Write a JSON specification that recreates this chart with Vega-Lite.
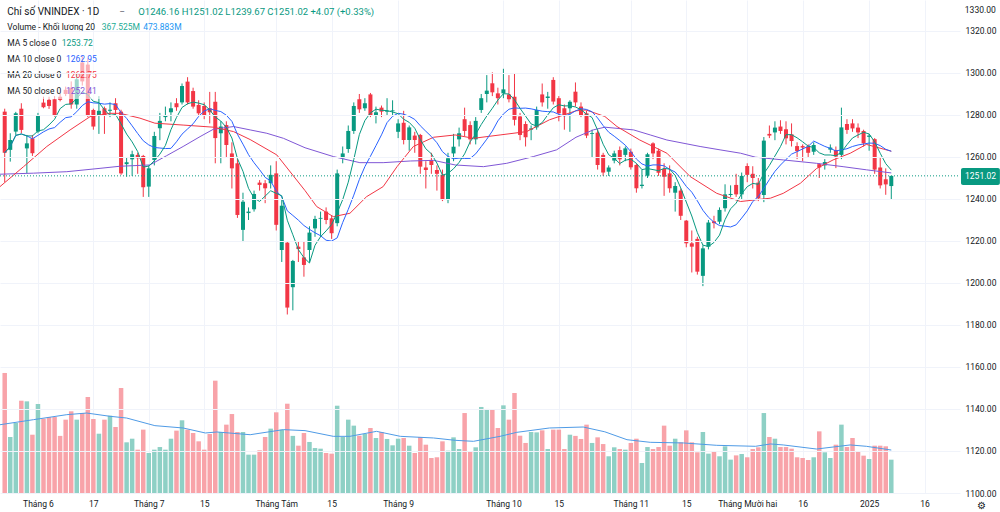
{
"$schema":"https://vega.github.io/schema/vega-lite/v6.json",
"width":960,"height":493,
"autosize":{"type":"none"},
"padding":{"left":0,"top":0,"right":40,"bottom":19},
"background":"#ffffff",
"config":{"view":{"stroke":null},"font":"Roboto","text":{"font":"Roboto"}},
"datasets":{
"k":[
{"i":1,"o":1281.6,"h":1283,"l":1248,"c":1262,"v":1324},
{"i":2,"o":1263.4,"h":1271.3,"l":1257.8,"c":1268.1,"v":618},
{"i":3,"o":1272.1,"h":1281.5,"l":1270.5,"c":1280.8,"v":772},
{"i":4,"o":1283,"h":1285.6,"l":1271.3,"c":1272.9,"v":1018},
{"i":5,"o":1264.1,"h":1270.5,"l":1252.3,"c":1266.5,"v":1011},
{"i":6,"o":1268.9,"h":1270.5,"l":1260.5,"c":1261.8,"v":643},
{"i":7,"o":1272.1,"h":1281,"l":1271.3,"c":1280,"v":982},
{"i":8,"o":1285.9,"h":1288.7,"l":1283.2,"c":1283.7,"v":820},
{"i":9,"o":1287.2,"h":1288.7,"l":1282.9,"c":1284.3,"v":838},
{"i":10,"o":1287.5,"h":1289,"l":1279.2,"c":1280,"v":838},
{"i":11,"o":1288.7,"h":1290.3,"l":1286.5,"c":1287.2,"v":630},
{"i":12,"o":1292,"h":1293.5,"l":1289,"c":1290,"v":809},
{"i":13,"o":1293,"h":1296,"l":1283,"c":1285,"v":901},
{"i":14,"o":1285,"h":1300,"l":1283,"c":1297,"v":809},
{"i":15,"o":1305,"h":1308,"l":1294,"c":1296,"v":882},
{"i":16,"o":1304,"h":1307,"l":1279,"c":1280,"v":1059},
{"i":17,"o":1282.4,"h":1283,"l":1273,"c":1274.5,"v":816},
{"i":18,"o":1280,"h":1289,"l":1271,"c":1282,"v":654},
{"i":19,"o":1283.2,"h":1284,"l":1271,"c":1280,"v":809},
{"i":20,"o":1282,"h":1286,"l":1279,"c":1282.5,"v":853},
{"i":21,"o":1285.6,"h":1288,"l":1280,"c":1282.4,"v":728},
{"i":22,"o":1281.6,"h":1282.5,"l":1251.5,"c":1252.2,"v":1158},
{"i":23,"o":1256.6,"h":1260,"l":1250.6,"c":1257.5,"v":559},
{"i":24,"o":1258.9,"h":1263,"l":1251,"c":1261.3,"v":599},
{"i":25,"o":1261,"h":1262,"l":1252,"c":1259.4,"v":478},
{"i":26,"o":1260.5,"h":1261,"l":1241,"c":1245.6,"v":699},
{"i":27,"o":1245.9,"h":1256,"l":1241,"c":1254.6,"v":441},
{"i":28,"o":1258.6,"h":1272,"l":1256,"c":1270,"v":478},
{"i":29,"o":1273.7,"h":1281,"l":1268,"c":1277.2,"v":507},
{"i":30,"o":1279,"h":1284,"l":1277,"c":1280,"v":478},
{"i":31,"o":1281.3,"h":1286,"l":1277,"c":1283.2,"v":599},
{"i":32,"o":1285.6,"h":1288,"l":1282,"c":1283.7,"v":688},
{"i":33,"o":1286,"h":1295,"l":1285,"c":1293.8,"v":802},
{"i":34,"o":1295.9,"h":1298,"l":1285,"c":1286,"v":699},
{"i":35,"o":1291.4,"h":1293,"l":1283,"c":1284,"v":662},
{"i":36,"o":1284.8,"h":1287,"l":1280,"c":1280.8,"v":570},
{"i":37,"o":1284.3,"h":1286,"l":1278,"c":1280,"v":478},
{"i":38,"o":1283.2,"h":1291,"l":1276,"c":1281.3,"v":651},
{"i":39,"o":1286.3,"h":1291,"l":1257,"c":1269,"v":1239},
{"i":40,"o":1271.3,"h":1277,"l":1257,"c":1274.5,"v":673},
{"i":41,"o":1275.2,"h":1277,"l":1260,"c":1265.7,"v":754},
{"i":42,"o":1261.7,"h":1267,"l":1245,"c":1254.6,"v":871},
{"i":43,"o":1257,"h":1259,"l":1231,"c":1232.4,"v":673},
{"i":44,"o":1225.3,"h":1243,"l":1219.5,"c":1238.7,"v":673},
{"i":45,"o":1233.3,"h":1236,"l":1230,"c":1234,"v":423},
{"i":46,"o":1235.1,"h":1244,"l":1234,"c":1242.4,"v":423},
{"i":47,"o":1247.8,"h":1249,"l":1244,"c":1246.7,"v":471},
{"i":48,"o":1247.5,"h":1249,"l":1238,"c":1245.1,"v":618},
{"i":49,"o":1247.5,"h":1256,"l":1245,"c":1251.5,"v":710},
{"i":50,"o":1252.2,"h":1258,"l":1225,"c":1227.7,"v":890},
{"i":51,"o":1215.7,"h":1240,"l":1210,"c":1236.8,"v":699},
{"i":52,"o":1219.2,"h":1220,"l":1185,"c":1188.3,"v":985},
{"i":53,"o":1198,"h":1211,"l":1187,"c":1210.5,"v":630},
{"i":54,"o":1217.3,"h":1220,"l":1210,"c":1216.2,"v":522},
{"i":55,"o":1212.2,"h":1220,"l":1203,"c":1208.6,"v":662},
{"i":56,"o":1215.7,"h":1227,"l":1210,"c":1224,"v":563},
{"i":57,"o":1226,"h":1232,"l":1222,"c":1230.5,"v":496},
{"i":58,"o":1230.6,"h":1234,"l":1222,"c":1231,"v":489},
{"i":59,"o":1234,"h":1236,"l":1228,"c":1230,"v":441},
{"i":60,"o":1230.8,"h":1232,"l":1221,"c":1223.7,"v":434},
{"i":61,"o":1228.5,"h":1254,"l":1227,"c":1252.2,"v":963},
{"i":62,"o":1259.4,"h":1265,"l":1257,"c":1261.7,"v":618},
{"i":63,"o":1263.8,"h":1275,"l":1262,"c":1272.4,"v":809},
{"i":64,"o":1272.4,"h":1286,"l":1271,"c":1284.3,"v":743},
{"i":65,"o":1287.5,"h":1290,"l":1281,"c":1282.7,"v":632},
{"i":66,"o":1283.2,"h":1288,"l":1282,"c":1285.6,"v":651},
{"i":67,"o":1289.8,"h":1290.5,"l":1279,"c":1280,"v":717},
{"i":68,"o":1280,"h":1284,"l":1276,"c":1281.3,"v":607},
{"i":69,"o":1283.5,"h":1284.5,"l":1279,"c":1281.6,"v":673},
{"i":70,"o":1281.6,"h":1288,"l":1280,"c":1282,"v":596},
{"i":71,"o":1281.8,"h":1287,"l":1280,"c":1282.2,"v":526},
{"i":72,"o":1272,"h":1278,"l":1269,"c":1276,"v":599},
{"i":73,"o":1276.3,"h":1282,"l":1266,"c":1268.1,"v":607},
{"i":74,"o":1268.1,"h":1275,"l":1263,"c":1274.1,"v":522},
{"i":75,"o":1270.2,"h":1272,"l":1262,"c":1268.1,"v":441},
{"i":76,"o":1270.5,"h":1271,"l":1252,"c":1255.4,"v":618},
{"i":77,"o":1255,"h":1258,"l":1245,"c":1253.8,"v":533},
{"i":78,"o":1258.6,"h":1262,"l":1252,"c":1256.2,"v":386},
{"i":79,"o":1253.8,"h":1256,"l":1244,"c":1252,"v":394},
{"i":80,"o":1251.5,"h":1254,"l":1239,"c":1239.5,"v":570},
{"i":81,"o":1239.5,"h":1262,"l":1238,"c":1259.4,"v":467},
{"i":82,"o":1261.7,"h":1271,"l":1258,"c":1264.9,"v":614},
{"i":83,"o":1268.4,"h":1274,"l":1265,"c":1271.3,"v":485},
{"i":84,"o":1278,"h":1283.5,"l":1270,"c":1272.4,"v":882},
{"i":85,"o":1275.2,"h":1277,"l":1266,"c":1268.4,"v":460},
{"i":86,"o":1268.4,"h":1279,"l":1266,"c":1277.2,"v":504},
{"i":87,"o":1282.4,"h":1290,"l":1281,"c":1288,"v":949},
{"i":88,"o":1290,"h":1299,"l":1286,"c":1291.6,"v":927},
{"i":89,"o":1295.1,"h":1300.3,"l":1289,"c":1290.8,"v":919},
{"i":90,"o":1290.3,"h":1293,"l":1285,"c":1288,"v":717},
{"i":91,"o":1290.3,"h":1302,"l":1288,"c":1292.2,"v":967},
{"i":92,"o":1289.8,"h":1299,"l":1286,"c":1287.5,"v":809},
{"i":93,"o":1288.7,"h":1300,"l":1275,"c":1277.7,"v":1103},
{"i":94,"o":1279.3,"h":1281,"l":1268,"c":1270.5,"v":632},
{"i":95,"o":1275.7,"h":1277,"l":1265,"c":1269.4,"v":552},
{"i":96,"o":1273,"h":1275,"l":1268,"c":1273.6,"v":673},
{"i":97,"o":1274.1,"h":1284,"l":1273,"c":1282.4,"v":669},
{"i":98,"o":1289.8,"h":1295,"l":1284,"c":1286,"v":691},
{"i":99,"o":1288.1,"h":1291,"l":1283,"c":1288.8,"v":485},
{"i":100,"o":1296.7,"h":1298,"l":1285,"c":1286.4,"v":699},
{"i":101,"o":1288,"h":1289,"l":1277,"c":1280.8,"v":699},
{"i":102,"o":1283.2,"h":1285,"l":1273,"c":1279.6,"v":485},
{"i":103,"o":1283.2,"h":1287,"l":1272,"c":1286.3,"v":643},
{"i":104,"o":1291.1,"h":1295.5,"l":1284,"c":1286,"v":630},
{"i":105,"o":1284,"h":1286,"l":1279,"c":1280,"v":596},
{"i":106,"o":1280.8,"h":1282,"l":1269,"c":1270.2,"v":754},
{"i":107,"o":1271,"h":1273,"l":1260,"c":1271.4,"v":552},
{"i":108,"o":1271.6,"h":1273,"l":1254,"c":1256.2,"v":614},
{"i":109,"o":1261,"h":1262,"l":1251,"c":1252.6,"v":540},
{"i":110,"o":1253,"h":1256,"l":1251,"c":1255,"v":405},
{"i":111,"o":1258.3,"h":1263,"l":1257,"c":1261.7,"v":504},
{"i":112,"o":1263.3,"h":1265,"l":1256,"c":1258.9,"v":485},
{"i":113,"o":1261,"h":1265,"l":1258,"c":1264.1,"v":478},
{"i":114,"o":1262.5,"h":1264,"l":1254,"c":1255.1,"v":552},
{"i":115,"o":1256.2,"h":1257,"l":1243,"c":1245.1,"v":599},
{"i":116,"o":1246.2,"h":1254,"l":1245,"c":1246.8,"v":331},
{"i":117,"o":1251.1,"h":1262,"l":1250,"c":1261.3,"v":507},
{"i":118,"o":1266.5,"h":1267,"l":1259,"c":1261.7,"v":485},
{"i":119,"o":1263,"h":1264,"l":1251,"c":1252.5,"v":507},
{"i":120,"o":1254.3,"h":1257,"l":1241.5,"c":1250.6,"v":743},
{"i":121,"o":1252.2,"h":1256,"l":1243,"c":1245.1,"v":522},
{"i":122,"o":1243,"h":1248,"l":1234,"c":1246.2,"v":599},
{"i":123,"o":1244,"h":1245,"l":1230,"c":1232,"v":559},
{"i":124,"o":1229.7,"h":1230,"l":1217,"c":1218.9,"v":691},
{"i":125,"o":1218.9,"h":1225,"l":1205,"c":1217.3,"v":559},
{"i":126,"o":1221,"h":1222,"l":1204,"c":1205.4,"v":449},
{"i":127,"o":1203.4,"h":1218,"l":1198.5,"c":1216.5,"v":673},
{"i":128,"o":1217.3,"h":1230,"l":1216,"c":1228.8,"v":434},
{"i":129,"o":1229.4,"h":1232,"l":1226,"c":1228.5,"v":460},
{"i":130,"o":1229.2,"h":1236,"l":1228,"c":1234.8,"v":405},
{"i":131,"o":1235.6,"h":1247,"l":1234,"c":1242.2,"v":515},
{"i":132,"o":1241.9,"h":1246.5,"l":1241,"c":1242.4,"v":368},
{"i":133,"o":1246.7,"h":1252,"l":1241,"c":1242.2,"v":415},
{"i":134,"o":1242.2,"h":1252.6,"l":1240,"c":1251,"v":430},
{"i":135,"o":1255.7,"h":1257,"l":1248,"c":1251.5,"v":394},
{"i":136,"o":1252,"h":1255.6,"l":1245,"c":1250,"v":485},
{"i":137,"o":1247.8,"h":1250,"l":1239,"c":1240.3,"v":504},
{"i":138,"o":1241.9,"h":1269.5,"l":1238.5,"c":1267.8,"v":882},
{"i":139,"o":1271,"h":1275,"l":1269,"c":1270.2,"v":618},
{"i":140,"o":1271.7,"h":1277,"l":1268,"c":1274,"v":599},
{"i":141,"o":1274.5,"h":1277.5,"l":1271,"c":1272.4,"v":507},
{"i":142,"o":1273.2,"h":1277,"l":1266,"c":1268.9,"v":507},
{"i":143,"o":1270.8,"h":1276,"l":1265,"c":1267.6,"v":489},
{"i":144,"o":1265.2,"h":1267,"l":1259,"c":1262.8,"v":394},
{"i":145,"o":1265.2,"h":1266,"l":1258,"c":1264.5,"v":386},
{"i":146,"o":1265,"h":1266,"l":1260,"c":1262,"v":364},
{"i":147,"o":1262.5,"h":1267,"l":1261,"c":1265.7,"v":394},
{"i":148,"o":1256.6,"h":1257,"l":1250,"c":1255,"v":680},
{"i":149,"o":1256,"h":1259,"l":1254,"c":1257.6,"v":449},
{"i":150,"o":1263.5,"h":1266,"l":1262,"c":1264.5,"v":386},
{"i":151,"o":1263.3,"h":1265,"l":1254.7,"c":1260.2,"v":533},
{"i":152,"o":1261,"h":1283.5,"l":1259,"c":1274.1,"v":754},
{"i":153,"o":1275.7,"h":1278,"l":1271,"c":1272.9,"v":507},
{"i":154,"o":1276,"h":1278,"l":1272,"c":1273.6,"v":607},
{"i":155,"o":1274,"h":1276,"l":1269,"c":1271.7,"v":460},
{"i":156,"o":1272.4,"h":1273,"l":1265,"c":1266.5,"v":412},
{"i":157,"o":1269.6,"h":1271,"l":1263,"c":1270.2,"v":375},
{"i":158,"o":1268.5,"h":1269,"l":1252,"c":1254,"v":522},
{"i":159,"o":1255,"h":1260,"l":1245,"c":1246.5,"v":522},
{"i":160,"o":1249.4,"h":1254.6,"l":1242,"c":1246.95,"v":515},
{"i":161,"o":1246.16,"h":1251.02,"l":1239.67,"c":1251.02,"v":367.525}
],
"ma":[
{"s":"MA20","i":0.15,"v":1245.9},{"s":"MA20","i":4.4,"v":1255.4},{"s":"MA20","i":8.6,"v":1265},{"s":"MA20","i":12.8,"v":1272.9},{"s":"MA20","i":16.4,"v":1279.2},{"s":"MA20","i":20,"v":1280.8},{"s":"MA20","i":21.8,"v":1280.8},{"s":"MA20","i":25.4,"v":1278.5},{"s":"MA20","i":28.1,"v":1276.1},{"s":"MA20","i":33.2,"v":1275.2},{"s":"MA20","i":38.65,"v":1274.2},{"s":"MA20","i":42.3,"v":1272.1},{"s":"MA20","i":45.3,"v":1268.3},{"s":"MA20","i":50.1,"v":1261},{"s":"MA20","i":55.2,"v":1244},{"s":"MA20","i":57.3,"v":1236.4},{"s":"MA20","i":60.3,"v":1231.6},{"s":"MA20","i":63.3,"v":1233.2},{"s":"MA20","i":66.3,"v":1241.1},{"s":"MA20","i":69.3,"v":1245.9},{"s":"MA20","i":71.8,"v":1255.4},{"s":"MA20","i":74.75,"v":1265},{"s":"MA20","i":78.4,"v":1269.4},{"s":"MA20","i":82.3,"v":1270.5},{"s":"MA20","i":85.6,"v":1268.9},{"s":"MA20","i":90.4,"v":1270.5},{"s":"MA20","i":95.2,"v":1272.1},{"s":"MA20","i":99.3,"v":1277.7},{"s":"MA20","i":104.1,"v":1282},{"s":"MA20","i":105.9,"v":1282.4},{"s":"MA20","i":109.3,"v":1279.3},{"s":"MA20","i":111.5,"v":1274.5},{"s":"MA20","i":115.6,"v":1268.1},{"s":"MA20","i":120.5,"v":1261.8},{"s":"MA20","i":124.7,"v":1250.7},{"s":"MA20","i":129.5,"v":1242.7},{"s":"MA20","i":133.8,"v":1238.8},{"s":"MA20","i":136.5,"v":1239.6},{"s":"MA20","i":139.2,"v":1240.4},{"s":"MA20","i":141.5,"v":1242.7},{"s":"MA20","i":144.6,"v":1247.5},{"s":"MA20","i":147.5,"v":1254.5},{"s":"MA20","i":150.5,"v":1258.6},{"s":"MA20","i":153.6,"v":1261.8},{"s":"MA20","i":156.5,"v":1266},{"s":"MA20","i":161,"v":1262.75},
{"s":"MA50","i":0.15,"v":1251.8},{"s":"MA50","i":6.2,"v":1252.3},{"s":"MA50","i":12.2,"v":1253},{"s":"MA50","i":18.2,"v":1254.6},{"s":"MA50","i":21.8,"v":1255.6},{"s":"MA50","i":27.2,"v":1256.2},{"s":"MA50","i":30.2,"v":1260.6},{"s":"MA50","i":33.2,"v":1265},{"s":"MA50","i":36.25,"v":1269.7},{"s":"MA50","i":38.65,"v":1273.2},{"s":"MA50","i":42.3,"v":1274.5},{"s":"MA50","i":45.3,"v":1272.9},{"s":"MA50","i":48.3,"v":1271.3},{"s":"MA50","i":51.3,"v":1268.9},{"s":"MA50","i":55.2,"v":1264.4},{"s":"MA50","i":60.3,"v":1260.2},{"s":"MA50","i":65.1,"v":1257.3},{"s":"MA50","i":69.3,"v":1257.3},{"s":"MA50","i":74.2,"v":1258.1},{"s":"MA50","i":78.4,"v":1258.4},{"s":"MA50","i":82.3,"v":1256.2},{"s":"MA50","i":87.4,"v":1255.4},{"s":"MA50","i":91.6,"v":1257},{"s":"MA50","i":96.4,"v":1260.2},{"s":"MA50","i":100.6,"v":1263.4},{"s":"MA50","i":104.1,"v":1269.4},{"s":"MA50","i":107.2,"v":1272.9},{"s":"MA50","i":109.3,"v":1274.2},{"s":"MA50","i":114.5,"v":1272.9},{"s":"MA50","i":117.5,"v":1270.5},{"s":"MA50","i":120.5,"v":1268.1},{"s":"MA50","i":126.5,"v":1265},{"s":"MA50","i":130.1,"v":1263.4},{"s":"MA50","i":133.8,"v":1261.8},{"s":"MA50","i":136.5,"v":1259.9},{"s":"MA50","i":141.5,"v":1258.6},{"s":"MA50","i":147.5,"v":1257},{"s":"MA50","i":152.3,"v":1255.4},{"s":"MA50","i":156.5,"v":1253.9},{"s":"MA50","i":161,"v":1252.41},
{"s":"VOL","i":0.15,"v":753},{"s":"VOL","i":6.2,"v":809},{"s":"VOL","i":12.2,"v":864},{"s":"VOL","i":15.8,"v":882},{"s":"VOL","i":20,"v":846},{"s":"VOL","i":23,"v":827},{"s":"VOL","i":28.1,"v":743},{"s":"VOL","i":33.2,"v":717},{"s":"VOL","i":37.2,"v":662},{"s":"VOL","i":39.3,"v":673},{"s":"VOL","i":45.3,"v":643},{"s":"VOL","i":51.3,"v":699},{"s":"VOL","i":55.2,"v":688},{"s":"VOL","i":60.3,"v":625},{"s":"VOL","i":63.3,"v":625},{"s":"VOL","i":68.1,"v":680},{"s":"VOL","i":72.4,"v":625},{"s":"VOL","i":78.4,"v":607},{"s":"VOL","i":82.3,"v":581},{"s":"VOL","i":85.6,"v":570},{"s":"VOL","i":90.4,"v":625},{"s":"VOL","i":93.4,"v":669},{"s":"VOL","i":99.3,"v":717},{"s":"VOL","i":105.4,"v":728},{"s":"VOL","i":109.3,"v":675},{"s":"VOL","i":113.3,"v":588},{"s":"VOL","i":117.5,"v":559},{"s":"VOL","i":123.5,"v":552},{"s":"VOL","i":129.5,"v":526},{"s":"VOL","i":136.5,"v":515},{"s":"VOL","i":139.2,"v":541},{"s":"VOL","i":141.5,"v":530},{"s":"VOL","i":147.5,"v":485},{"s":"VOL","i":153.6,"v":530},{"s":"VOL","i":156.5,"v":515},{"s":"VOL","i":161,"v":473.883}
]
},
"layer":[
{"layer":[
{"data":{"name":"k"},"mark":{"type":"bar","size":4.5},
"encoding":{
"x":{"field":"i","type":"quantitative","scale":{"domain":[0.15,173.4],"nice":false,"zero":false,"padding":0},
"axis":{"title":null,"values":[7,17,27,37,50,60,72,91,101,114,124,135,145,157,167],
"labelExpr":"['Tháng 6','17','Tháng 7','15','Tháng Tám','15','Tháng 9','Tháng 10','15','Tháng 11','15','Tháng Mười hai','16','2025','16'][indexof([7,17,27,37,50,60,72,91,101,114,124,135,145,157,167], datum.value)]",
"grid":true,"gridColor":"#f0f3fa","ticks":false,"domain":false,"labelFontSize":8.5,"labelColor":"#131722","labelPadding":6,"labelOverlap":false,"labelFlush":false,"labelFont":"Roboto"}},
"y":{"field":"v","type":"quantitative","title":null,"scale":{"domain":[0,5438],"nice":false,"zero":true,"padding":0},"axis":null},
"color":{"condition":{"test":"datum.c >= datum.o","value":"#8ed0c5"},"value":"#f8a3a9"}}},
{"data":{"name":"ma"},"transform":[{"filter":"datum.s === 'VOL'"}],"mark":{"type":"line","color":"#4f9be6","strokeWidth":1},
"encoding":{"x":{"field":"i","type":"quantitative"},"y":{"field":"v","type":"quantitative","title":null}}}
]},
{"layer":[
{"data":{"name":"k"},"mark":{"type":"rule","strokeWidth":1},
"encoding":{"x":{"field":"i","type":"quantitative"},
"y":{"field":"l","type":"quantitative","title":null,"scale":{"domain":[1100,1334.76],"nice":false,"zero":false,"padding":0},
"axis":{"orient":"right","title":null,"values":[1100,1110,1120,1130,1140,1150,1160,1170,1180,1190,1200,1210,1220,1230,1240,1250,1260,1270,1280,1290,1300,1310,1320,1330],"format":".2f","grid":true,"gridColor":"#f0f3fa","ticks":false,"domain":false,"labelFontSize":8.5,"labelColor":"#131722","labelPadding":5,"labelOverlap":false,"labelFlush":false,"labelBound":false,"labelFont":"Roboto","zindex":1}},
"y2":{"field":"h"},
"color":{"condition":{"test":"datum.c >= datum.o","value":"#089981"},"value":"#F23645"}}},
{"data":{"name":"k"},"mark":{"type":"bar","size":4},
"encoding":{"x":{"field":"i","type":"quantitative"},"y":{"field":"o","type":"quantitative","title":null},"y2":{"field":"c"},
"color":{"condition":{"test":"datum.c >= datum.o","value":"#089981"},"value":"#F23645"}}},
{"data":{"name":"ma"},"transform":[{"filter":"datum.s === 'MA50'"}],"mark":{"type":"line","color":"#8057d6","strokeWidth":1},
"encoding":{"x":{"field":"i","type":"quantitative"},"y":{"field":"v","type":"quantitative","title":null}}},
{"data":{"name":"ma"},"transform":[{"filter":"datum.s === 'MA20'"}],"mark":{"type":"line","color":"#F23645","strokeWidth":1},
"encoding":{"x":{"field":"i","type":"quantitative"},"y":{"field":"v","type":"quantitative","title":null}}},
{"data":{"name":"k"},"transform":[{"window":[{"op":"mean","field":"c","as":"m10"}],"frame":[-9,0],"sort":[{"field":"i"}]}],
"mark":{"type":"line","color":"#2962FF","strokeWidth":1},
"encoding":{"x":{"field":"i","type":"quantitative"},"y":{"field":"m10","type":"quantitative","title":null}}},
{"data":{"name":"k"},"transform":[{"window":[{"op":"mean","field":"c","as":"m5"}],"frame":[-4,0],"sort":[{"field":"i"}]}],
"mark":{"type":"line","color":"#089981","strokeWidth":1},
"encoding":{"x":{"field":"i","type":"quantitative"},"y":{"field":"m5","type":"quantitative","title":null}}},
{"data":{"values":[{}]},"mark":{"type":"rule","color":"#089981","strokeWidth":1,"strokeDash":[1,2]},
"encoding":{"x":{"datum":0.15},"x2":{"datum":173.4},"y":{"datum":1251.02}}},
{"data":{"values":[{}]},"mark":{"type":"rect","color":"#ffffff","opacity":0.6},
"encoding":{"x":{"datum":0.15},"x2":{"datum":18.2},"y":{"datum":1310.5},"y2":{"datum":1287.6}}},
{"data":{"values":[{}]},"mark":{"type":"rect","color":"#089981","cornerRadius":2},
"encoding":{"x":{"datum":173.58},"x2":{"datum":180.6},"y":{"datum":1254.8},"y2":{"datum":1246.7}}},
{"data":{"values":[{"t":"1251.02"}]},"mark":{"type":"text","color":"#ffffff","fontSize":8.5,"align":"center","baseline":"middle"},
"encoding":{"x":{"datum":177.1},"y":{"datum":1251.02},"text":{"field":"t"}}},
{"data":{"values":[{"t":"1330.00"}]},"mark":{"type":"text","color":"#131722","fontSize":8.5,"align":"left","baseline":"middle"},
"encoding":{"x":{"datum":174.27},"y":{"datum":1330},"text":{"field":"t"}}},
{"data":{"values":[{"t":"⚙"}]},"mark":{"type":"text","color":"#131722","fontSize":9.5,"align":"center","baseline":"middle"},
"encoding":{"x":{"datum":177.37},"y":{"datum":1093.6},"text":{"field":"t"}}},
{"data":{"values":[{"t":"Chỉ số VNINDEX · 1D"}]},"mark":{"type":"text","color":"#131722","fontSize":10,"align":"left","baseline":"middle"},
"encoding":{"x":{"datum":1.47},"y":{"datum":1329.2},"text":{"field":"t"}}},
{"data":{"values":[{"t":"−"}]},"mark":{"type":"text","color":"#6a6d78","fontSize":10,"align":"center","baseline":"middle"},
"encoding":{"x":{"datum":22.17},"y":{"datum":1329.2},"text":{"field":"t"}}},
{"data":{"values":[{"t":"O1246.16 H1251.02 L1239.67 C1251.02 +4.07 (+0.33%)"}]},"mark":{"type":"text","color":"#089981","fontSize":9.5,"align":"left","baseline":"middle"},
"encoding":{"x":{"datum":25.1},"y":{"datum":1329.2},"text":{"field":"t"}}},
{"data":{"values":[{"t":"Volume - Khối lượng 20"}]},"mark":{"type":"text","color":"#131722","fontSize":8.5,"align":"left","baseline":"middle"},
"encoding":{"x":{"datum":1.47},"y":{"datum":1322.0},"text":{"field":"t"}}},
{"data":{"values":[{"t":"367.525M"}]},"mark":{"type":"text","color":"#22ab94","fontSize":8.5,"align":"left","baseline":"middle"},
"encoding":{"x":{"datum":18.5},"y":{"datum":1322.0},"text":{"field":"t"}}},
{"data":{"values":[{"t":"473.883M"}]},"mark":{"type":"text","color":"#2196F3","fontSize":8.5,"align":"left","baseline":"middle"},
"encoding":{"x":{"datum":26.0},"y":{"datum":1322.0},"text":{"field":"t"}}},
{"data":{"values":[{"t":"MA 5 close 0"}]},"mark":{"type":"text","color":"#131722","fontSize":8.5,"align":"left","baseline":"middle"},
"encoding":{"x":{"datum":1.47},"y":{"datum":1314.4},"text":{"field":"t"}}},
{"data":{"values":[{"t":"1253.72"}]},"mark":{"type":"text","color":"#089981","fontSize":8.5,"align":"left","baseline":"middle"},
"encoding":{"x":{"datum":11.3},"y":{"datum":1314.4},"text":{"field":"t"}}},
{"data":{"values":[{"t":"MA 10 close 0"}]},"mark":{"type":"text","color":"#131722","fontSize":8.5,"align":"left","baseline":"middle"},
"encoding":{"x":{"datum":1.47},"y":{"datum":1306.5},"text":{"field":"t"}}},
{"data":{"values":[{"t":"1262.95"}]},"mark":{"type":"text","color":"#2962FF","fontSize":8.5,"align":"left","baseline":"middle"},
"encoding":{"x":{"datum":12.06},"y":{"datum":1306.5},"text":{"field":"t"}}},
{"data":{"values":[{"t":"MA 20 close 0"}]},"mark":{"type":"text","color":"#131722","fontSize":8.5,"align":"left","baseline":"middle"},
"encoding":{"x":{"datum":1.47},"y":{"datum":1299.0},"text":{"field":"t"}}},
{"data":{"values":[{"t":"1262.75"}]},"mark":{"type":"text","color":"#F23645","fontSize":8.5,"align":"left","baseline":"middle"},
"encoding":{"x":{"datum":12.06},"y":{"datum":1299.0},"text":{"field":"t"}}},
{"data":{"values":[{"t":"MA 50 close 0"}]},"mark":{"type":"text","color":"#131722","fontSize":8.5,"align":"left","baseline":"middle"},
"encoding":{"x":{"datum":1.47},"y":{"datum":1291.6},"text":{"field":"t"}}},
{"data":{"values":[{"t":"1252.41"}]},"mark":{"type":"text","color":"#8057d6","fontSize":8.5,"align":"left","baseline":"middle"},
"encoding":{"x":{"datum":12.06},"y":{"datum":1291.6},"text":{"field":"t"}}}
]}
],
"resolve":{"scale":{"y":"independent"},"axis":{"y":"independent"}}
}
